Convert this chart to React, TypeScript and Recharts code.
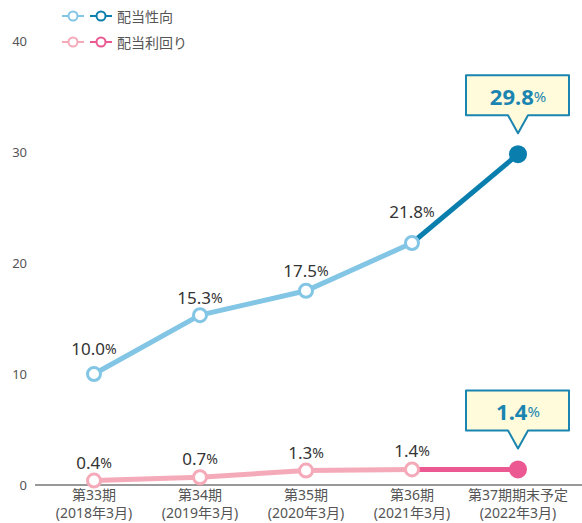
import React from 'react';
import { LineChart, Line, XAxis, YAxis, LabelList } from 'recharts';

const categories = ['第33期', '第34期', '第35期', '第36期', '第37期期末予定'];
const periods = ['(2018年3月)', '(2019年3月)', '(2020年3月)', '(2021年3月)', '(2022年3月)'];
const payoutRatio = [10.0, 15.3, 17.5, 21.8, 29.8];
const dividendYield = [0.4, 0.7, 1.3, 1.4, 1.4];
const yTicks = [0, 10, 20, 30, 40];
const actualCount = 4; // last one is a forecast

const FONT = '"Noto Sans", "Noto Sans CJK JP", sans-serif';
const C = {
  blueLight: '#82c5e5',
  blueDark: '#0a7fae',
  pinkLight: '#f5aab9',
  pinkDark: '#ec5891',
  text: '#333',
  sub: '#555',
  boxFill: '#fffbdb',
  boxStroke: '#1a85b0',
};

// vertical distance of value labels above the points
const payoutLabelDy = [26, 18, 21, 32];
const yieldLabelDy = 19;

const data = categories.map((name, i) => ({
  name,
  period: periods[i],
  payoutActual: i < actualCount ? payoutRatio[i] : null,
  payoutForecast: i >= actualCount - 1 ? payoutRatio[i] : null,
  yieldActual: i < actualCount ? dividendYield[i] : null,
  yieldForecast: i >= actualCount - 1 ? dividendYield[i] : null,
}));

const XTick = (props: any) => {
  const { x, y, payload, index } = props;
  return (
    <text x={x} y={y} textAnchor="middle" fontSize={14} fill={C.sub} fontFamily={FONT}>
      <tspan x={x} dy={7}>{payload.value}</tspan>
      <tspan x={x} dy={18}>{periods[index]}</tspan>
    </text>
  );
};

const valueLabel = (dyFor: (i: number) => number) => (props: any) => {
  const { x, y, value, index } = props;
  if (value == null) return null;
  return (
    <text x={x} y={y - dyFor(index)} textAnchor="middle" dominantBaseline="central" fill={C.text} fontFamily={FONT}>
      <tspan fontSize={17}>{Number(value).toFixed(1)}</tspan>
      <tspan fontSize={14}>%</tspan>
    </text>
  );
};

const Callout = (props: any) => {
  const { x, y, value, index } = props;
  if (index !== categories.length - 1 || value == null) return null;
  const tip = y - 21;
  const b = tip - 18;
  const t = b - 40;
  const l = x - 52;
  const r = x + 51;
  const d = `M${l} ${t} H${r} V${b} H${x + 10} L${x} ${tip} L${x - 10} ${b} H${l} Z`;
  return (
    <g>
      <path d={d} fill={C.boxFill} stroke={C.boxStroke} strokeWidth={2} strokeLinejoin="round" />
      <text x={x} y={(t + b) / 2 + 1} textAnchor="middle" dominantBaseline="central" fill={C.boxStroke} fontFamily={FONT}>
        <tspan fontSize={22} fontWeight="bold">{Number(value).toFixed(1)}</tspan>
        <tspan fontSize={15}>%</tspan>
      </text>
    </g>
  );
};

const endDot = (color: string) => (props: any) => {
  const { cx, cy, index } = props;
  if (index !== categories.length - 1 || cy == null) return <g key={`d${index}`} />;
  return <circle key={`d${index}`} cx={cx} cy={cy} r={9} fill={color} />;
};

const LegendIcon = ({ x, y, color }: { x: number; y: number; color: string }) => (
  <g>
    <line x1={x - 11} y1={y} x2={x + 11} y2={y} stroke={color} strokeWidth={2} />
    <circle cx={x} cy={y} r={4.5} fill="#fff" stroke={color} strokeWidth={2} />
  </g>
);

const legendRows = [
  { label: '配当性向', light: C.blueLight, dark: C.blueDark },
  { label: '配当利回り', light: C.pinkLight, dark: C.pinkDark },
];

const ChartLegend = () => (
  <svg width={200} height={56} style={{ position: 'absolute', left: 0, top: 0 }}>
    {legendRows.map((row, i) => {
      const y = 16 + i * 26;
      return (
        <g key={row.label}>
          <LegendIcon x={73} y={y} color={row.light} />
          <LegendIcon x={101} y={y} color={row.dark} />
          <text x={117} y={y} dominantBaseline="central" fontSize={14} fill={C.sub} fontFamily={FONT}>
            {row.label}
          </text>
        </g>
      );
    })}
  </svg>
);

export default function App() {
  return (
    <div style={{ position: 'absolute', left: 0, top: 0, width: 582, height: 523, fontFamily: FONT }}>
      <LineChart width={582} height={523} data={data} margin={{ top: 41, right: 0, bottom: 0, left: 0 }}>
        <XAxis
          dataKey="name"
          height={38}
          tick={<XTick />}
          tickLine={false}
          axisLine={{ stroke: '#333', strokeWidth: 1 }}
          padding={{ left: 59, right: 64 }}
          interval={0}
        />
        <YAxis
          width={35}
          domain={[0, 40]}
          ticks={yTicks}
          axisLine={false}
          tickLine={false}
          tick={{ fontSize: 13, fill: C.sub, fontFamily: FONT }}
        />

        <Line
          dataKey="payoutForecast"
          stroke={C.blueDark}
          strokeWidth={5}
          dot={endDot(C.blueDark)}
          activeDot={false}
          isAnimationActive={false}
        >
          <LabelList dataKey="payoutForecast" content={Callout} />
        </Line>
        <Line
          dataKey="payoutActual"
          stroke={C.blueLight}
          strokeWidth={5}
          dot={{ r: 6.5, fill: '#fff', stroke: C.blueLight, strokeWidth: 3 }}
          activeDot={false}
          isAnimationActive={false}
        >
          <LabelList dataKey="payoutActual" content={valueLabel((i) => payoutLabelDy[i] ?? 24)} />
        </Line>

        <Line
          dataKey="yieldForecast"
          stroke={C.pinkDark}
          strokeWidth={5}
          dot={endDot(C.pinkDark)}
          activeDot={false}
          isAnimationActive={false}
        >
          <LabelList dataKey="yieldForecast" content={Callout} />
        </Line>
        <Line
          dataKey="yieldActual"
          stroke={C.pinkLight}
          strokeWidth={5}
          dot={{ r: 6.5, fill: '#fff', stroke: C.pinkLight, strokeWidth: 3 }}
          activeDot={false}
          isAnimationActive={false}
        >
          <LabelList dataKey="yieldActual" content={valueLabel(() => yieldLabelDy)} />
        </Line>
      </LineChart>
      <ChartLegend />
    </div>
  );
}
